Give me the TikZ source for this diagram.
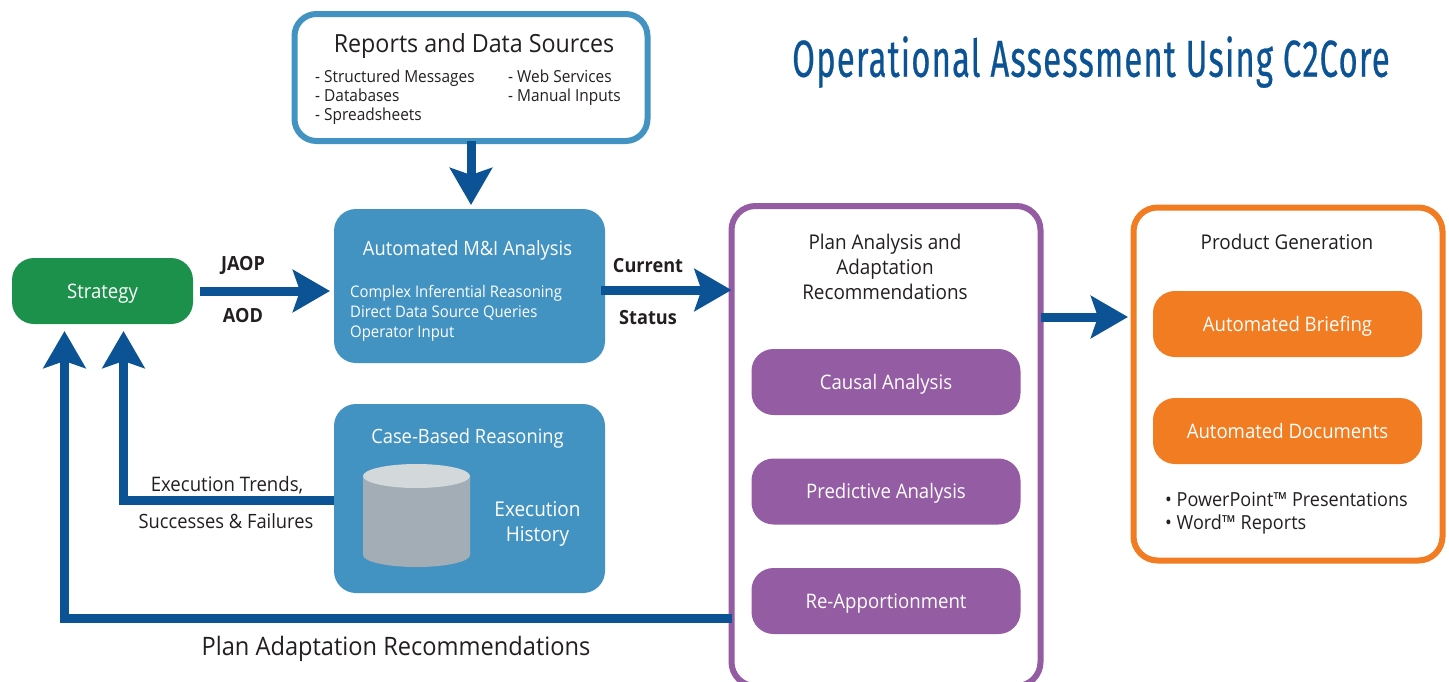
\documentclass[tikz,border=0pt]{standalone}
\usepackage{fontspec}
\setmainfont[FakeStretch=0.93]{Open Sans}
\newfontfamily\titlefont[FakeStretch=0.63,LetterSpace=2.4,FakeBold=0.5]{Fira Sans}
\usetikzlibrary{arrows.meta,calc}
\definecolor{dblue}{HTML}{0B5394}
\definecolor{lblue}{HTML}{4393C2}
\definecolor{green1}{HTML}{1C914B}
\definecolor{purp}{HTML}{945CA3}
\definecolor{orng}{HTML}{F17C22}
\definecolor{txt}{HTML}{231F20}
\definecolor{cyl}{HTML}{A3ADB5}
\definecolor{cyltop}{HTML}{D3D8DB}
\tikzset{x=1pt,y=-1pt,
 box/.style={rounded corners=#1,inner sep=0,outer sep=0,anchor=center},
 lab/.style={font=\fontsize{20}{25}\selectfont,text=txt,inner sep=0,align=center,yshift=-1.5pt},
 wlab/.style={font=\fontsize{20}{25}\selectfont,text=white,inner sep=0,align=center,yshift=-1.5pt},
 small/.style={font=\fontsize{16.6}{18.7}\selectfont,text=txt,inner sep=0,align=left,anchor=north west},
 boldlab/.style={font=\fontsize{19.5}{22}\selectfont\bfseries,text=txt,inner sep=0},
 conn/.style={draw=dblue,line width=9pt,-{Stealth[length=37pt,width=42pt,inset=7pt]}},
}
\begin{document}
\begin{tikzpicture}
\useasboundingbox (0,0) rectangle (1449,681);
\coordinate (p1) at (64.5,618);
\coordinate (p2) at (123.5,500.5);
\node[box=22pt,fill=green1,minimum width=181pt,minimum height=66pt] (strategy) at (102.5,291) {};
\node[wlab] at ($(strategy)+(0,1)$) {Strategy};
\node[box=22pt,draw=lblue,line width=6pt,fill=white,minimum width=353pt,minimum height=127pt] (reports) at (471,77.5) {};
\node[lab,font=\fontsize{25}{30}\selectfont] at (474,45) {Reports and Data Sources};
\node[small] at (315,70) {- Structured Messages\\- Databases\\- Spreadsheets};
\node[small] at (508,70) {- Web Services\\- Manual Inputs};
\node[box=22pt,fill=lblue,minimum width=271pt,minimum height=154pt] (mi) at (469.5,286) {};
\node[wlab,font=\fontsize{19.7}{24}\selectfont] at (467.5,249) {Automated M\&I Analysis};
\node[small,text=white,font=\fontsize{16}{20}\selectfont] at (350,285) {Complex Inferential Reasoning\\Direct Data Source Queries\\Operator Input};
\node[box=22pt,fill=lblue,minimum width=271pt,minimum height=189pt] (cbr) at (469.5,498.5) {};
\node[wlab,font=\fontsize{19.7}{24}\selectfont] at (467.5,437) {Case-Based Reasoning};
\path[fill=cyl] (363,476) -- (363,555) arc[start angle=180,end angle=360,x radius=53.5,y radius=-12] -- (470,476) -- cycle;
\path[fill=cyltop] (416.5,476) ellipse[x radius=53.5,y radius=12];
\node[wlab,font=\fontsize{20.4}{25}\selectfont] at (537.5,522) {Execution\\History};
\node[box=24pt,draw=purp,line width=6pt,fill=white,minimum width=309pt,minimum height=480pt] (plan) at (886,446) {};
\node[lab,font=\fontsize{20.3}{25}\selectfont] at (885,265) {Plan Analysis and\\Adaptation\\Recommendations};
\node[box=22pt,fill=purp,minimum width=269pt,minimum height=66pt] (causal) at (886,382) {};
\node[wlab] at ($(causal)+(0,1)$) {Causal Analysis};
\node[box=22pt,fill=purp,minimum width=269pt,minimum height=66pt] (pred) at (886,491.5) {};
\node[wlab] at (pred) {Predictive Analysis};
\node[box=22pt,fill=purp,minimum width=269pt,minimum height=66pt] (reapp) at (886,601) {};
\node[wlab] at ($(reapp)+(0,1)$) {Re-Apportionment};
\node[box=24pt,draw=orng,line width=6pt,fill=white,minimum width=309pt,minimum height=353pt] (prod) at (1288,384) {};
\node[lab,font=\fontsize{20.3}{25}\selectfont] at (1287,240) {Product Generation};
\node[box=22pt,fill=orng,minimum width=269pt,minimum height=66pt] (brief) at (1287.5,324) {};
\node[wlab] at ($(brief)+(0,1)$) {Automated Briefing};
\node[box=22pt,fill=orng,minimum width=269pt,minimum height=66pt] (docs) at (1287.5,431) {};
\node[wlab] at ($(docs)+(0,-2)$) {Automated Documents};
\node[small,font=\fontsize{19.4}{23}\selectfont] at (1165,492) {• PowerPoint™ Presentations\\• Word™ Reports};
\node[font=\titlefont\fontsize{52}{58}\selectfont,text=dblue,inner sep=0] (title) at (1091,62) {Operational Assessment Using C2Core};
\draw[conn] (reports.south) -- (471,205);
\draw[conn] ($(strategy.east)+(7,0)$) -- (330,291);
\draw[conn] (601,290) -- (plan.west |- 0,290);
\draw[conn] (plan.east |- 0,317) -- (1128,317);
\draw[conn] (cbr.west |- p2) -- (p2) -- (123.5,331);
\draw[conn] (plan.west |- p1) -- (p1) -- (64.5,331);
\node[boldlab] at (243,265) {JAOP};
\node[boldlab] at (243,316) {AOD};
\node[boldlab] at (648,266) {Current};
\node[boldlab] at (648,318) {Status};
\node[lab] at (227,484) {Execution Trends,};
\node[lab,font=\fontsize{19.7}{24}\selectfont] at (226,520) {Successes \& Failures};
\node[lab,font=\fontsize{25.4}{30}\selectfont] at (396,647) {Plan Adaptation Recommendations};
\end{tikzpicture}
\end{document}
